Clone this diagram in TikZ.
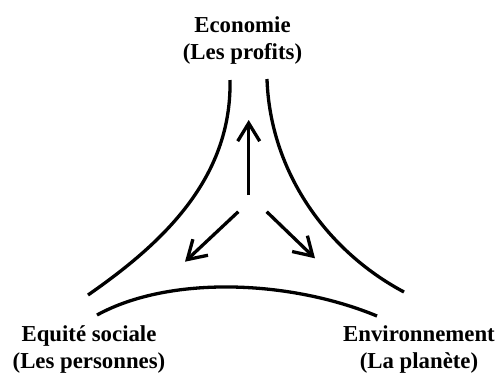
\documentclass[tikz,border=0pt]{standalone}
\usepackage{fontspec}
\setmainfont{Liberation Serif}
\usetikzlibrary{arrows.meta}
\tikzset{
  curve/.style={line width=3.3pt},
  flow/.style={line width=3.3pt,-{Straight Barb[length=18pt,width=22pt]}},
  label/.style={font=\fontsize{22.8}{27}\selectfont\bfseries,align=center,inner sep=0pt,anchor=base}
}
\begin{document}
\begin{tikzpicture}[x=1pt,y=-1pt]
\useasboundingbox (0,0) rectangle (498,376);
\node[label] (eco) at (242.5,59) {Economie\\(Les profits)};
\node[label] (soc) at (89,368) {Equité sociale\\(Les personnes)};
\node[label] (env) at (419,368) {Environnement\\(La planète)};
\coordinate (c1) at (248.7,195);
\coordinate (t1) at (248.7,120);
\coordinate (c2) at (238.3,211.7);
\coordinate (t2) at (185,261.7);
\coordinate (c3) at (266.7,211.7);
\coordinate (t3) at (315,258.3);
\draw[curve] (230,80) .. controls (232,180) and (160,245) .. (88,295);
\draw[curve] (267,79) .. controls (270,170) and (325,250) .. (404,292);
\draw[curve] (97,315) .. controls (170,275) and (290,280) .. (377,316);
\draw[flow] (c1) -- (t1);
\draw[flow] (c2) -- (t2);
\draw[flow] (c3) -- (t3);
\end{tikzpicture}
\end{document}
